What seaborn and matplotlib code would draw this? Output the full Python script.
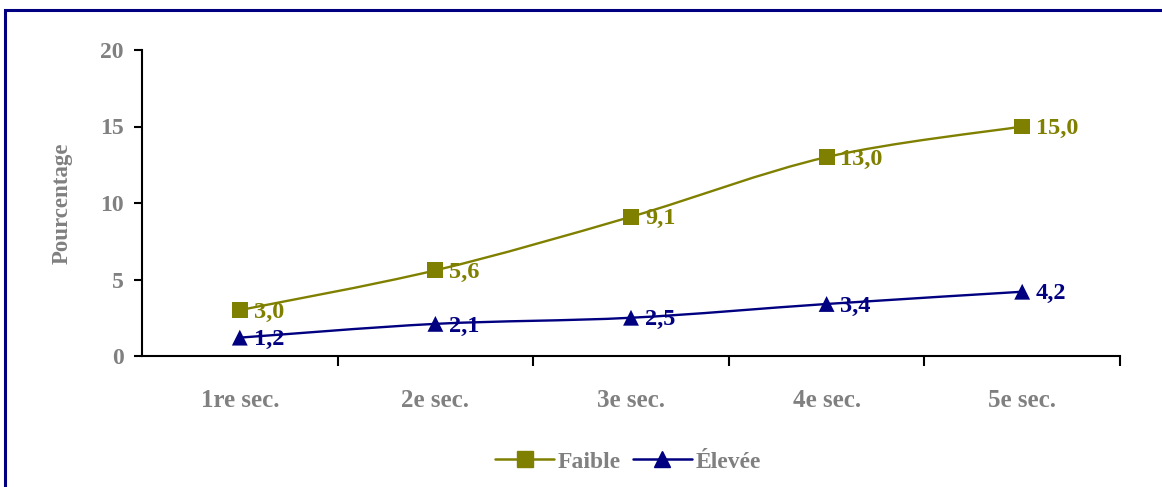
import numpy as np
import pandas as pd
import matplotlib
matplotlib.use("Agg")
import matplotlib.pyplot as plt
from matplotlib.path import Path
from matplotlib.patches import PathPatch, Rectangle
from matplotlib.lines import Line2D
from matplotlib.ticker import FixedLocator, NullFormatter
import seaborn as sns

# ---- données ----
categories = ["1re sec.", "2e sec.", "3e sec.", "4e sec.", "5e sec."]
faible = [3.0, 5.6, 9.1, 13.0, 15.0]
elevee = [1.2, 2.1, 2.5, 3.4, 4.2]
series_names = ["Faible", "Élevée"]

OLIVE = "#808000"
NAVY = "#000080"
GRAY = "#808080"

sns.set_style("white")
plt.rcParams["font.family"] = ["Liberation Serif", "DejaVu Serif"]
plt.rcParams["font.weight"] = "bold"

df = pd.DataFrame({
    "x": list(range(len(categories))) * 2,
    "val": faible + elevee,
    "serie": [series_names[0]] * 5 + [series_names[1]] * 5,
})

fig = plt.figure(figsize=(11.62, 4.87), dpi=100)
ax = fig.add_axes([142 / 1162, 1 - 356 / 487, (1120 - 142) / 1162, (356 - 50) / 487])


def smooth_path(xs, ys):
    # courbe lissée façon Excel (Bézier Catmull-Rom)
    xs = np.asarray(xs, float)
    ys = np.asarray(ys, float)
    verts = [(xs[0], ys[0])]
    codes = [Path.MOVETO]
    n = len(xs)
    for i in range(n - 1):
        p0 = (xs[max(i - 1, 0)], ys[max(i - 1, 0)])
        p1 = (xs[i], ys[i])
        p2 = (xs[i + 1], ys[i + 1])
        p3 = (xs[min(i + 2, n - 1)], ys[min(i + 2, n - 1)])
        c1 = (p1[0] + (p2[0] - p0[0]) / 6, p1[1] + (p2[1] - p0[1]) / 6)
        c2 = (p2[0] - (p3[0] - p1[0]) / 6, p2[1] - (p3[1] - p1[1]) / 6)
        verts += [c1, c2, p2]
        codes += [Path.CURVE4] * 3
    return Path(verts, codes)


x_idx = list(range(len(categories)))
for vals, col in [(faible, OLIVE), (elevee, NAVY)]:
    ax.add_patch(PathPatch(smooth_path(x_idx, vals), fill=False,
                           edgecolor=col, lw=1.7, zorder=2))

sns.scatterplot(data=df, x="x", y="val", hue="serie", style="serie",
                palette={series_names[0]: OLIVE, series_names[1]: NAVY},
                markers={series_names[0]: "s", series_names[1]: "^"},
                s=130, edgecolor="none", ax=ax, legend=False, zorder=3)

for vals, col in [(faible, OLIVE), (elevee, NAVY)]:
    for i, v in enumerate(vals):
        ax.annotate(f"{v:.1f}".replace(".", ","), (i, v), xytext=(10, -1.5),
                    textcoords="offset points", ha="left", va="center",
                    color=col, fontsize=17.5, fontweight="bold", zorder=4)

ax.set_xlim(-0.5, len(categories) - 0.5)
ax.set_ylim(0, 20)
ax.set_yticks([0, 5, 10, 15, 20])
ax.xaxis.set_major_locator(FixedLocator(np.arange(0.5, len(categories), 1.0)))
ax.xaxis.set_major_formatter(NullFormatter())
ax.xaxis.set_minor_locator(FixedLocator(x_idx))
ax.set_xticklabels(categories, minor=True)
ax.tick_params(axis="x", which="major", bottom=True, direction="out", length=7, width=1.5, color="black")
ax.tick_params(axis="x", which="minor", bottom=True, length=0, pad=24, labelsize=18, labelcolor=GRAY)
ax.tick_params(axis="y", left=True, direction="out", length=6, width=1.5, color="black",
               labelsize=17, labelcolor=GRAY, pad=7)
for lab in ax.get_xticklabels(minor=True) + ax.get_yticklabels():
    lab.set_fontweight("bold")

sns.despine(ax=ax)
for s in ["left", "bottom"]:
    ax.spines[s].set_linewidth(1.5)
    ax.spines[s].set_color("black")

ax.set_xlabel("")
ax.set_ylabel("Pourcentage", color=GRAY, fontsize=16.5, fontweight="bold", labelpad=20)

handles = [
    Line2D([0], [0], color=OLIVE, lw=1.8, marker="s", markersize=11),
    Line2D([0], [0], color=NAVY, lw=1.8, marker="^", markersize=11),
]
leg = fig.legend(handles, series_names, loc="center", bbox_to_anchor=(628 / 1162, 1 - 462 / 487),
                 ncol=2, frameon=False, handlelength=2.5, columnspacing=0.5, handletextpad=0.15,
                 prop={"size": 17, "weight": "bold"})
for t in leg.get_texts():
    t.set_color(GRAY)

fig.patches.append(Rectangle((5 / 1162, -0.1), 1.2, 1.1 - 10 / 487, transform=fig.transFigure,
                             fill=False, edgecolor=NAVY, lw=2.2, zorder=10))

fig.savefig("out.png", dpi=100)
